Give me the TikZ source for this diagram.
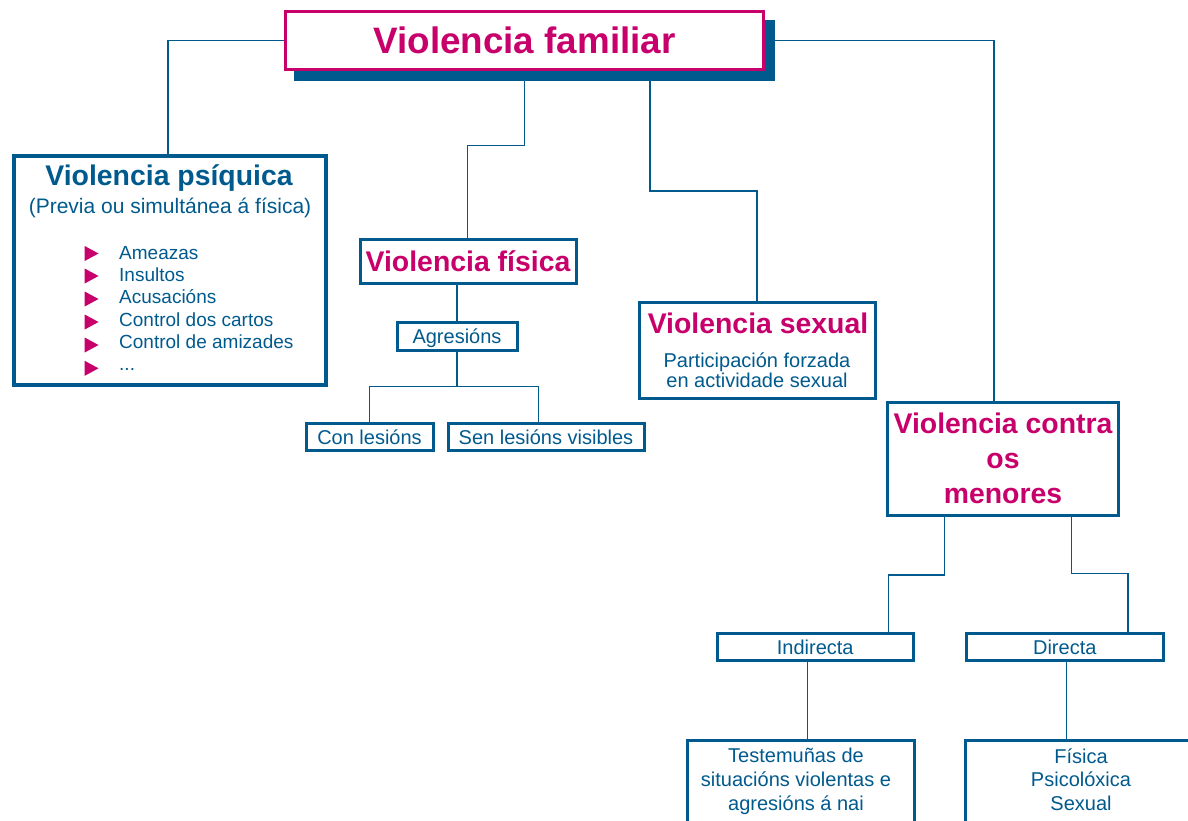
\documentclass[tikz,border=0pt]{standalone}
\usepackage{fontspec}
\setmainfont{Liberation Sans}
\definecolor{dblue}{HTML}{005A8E}
\definecolor{mpink}{HTML}{C8006B}
\newcommand\mydotsx{...}
\begin{document}
\begin{tikzpicture}[x=1pt,y=-1pt,
  boxb/.style={draw=dblue,line width=3pt,fill=white,inner sep=0pt,rectangle},
  conn/.style={draw=dblue,line width=1.4pt},
  ttl/.style={text=mpink,font=\bfseries\fontsize{28.4}{34}\selectfont,text height=20.3pt,text depth=0pt,inner sep=0pt},
  txt/.style={text=dblue,font=\fontsize{20}{24}\selectfont,text height=14.3pt,text depth=0pt,inner sep=0pt},
  itm/.style={text=dblue,font=\fontsize{19}{23}\selectfont,anchor=base west,inner sep=0pt},
  bul/.style={fill=mpink}]
\useasboundingbox (0,0) rectangle (1188,820);
\clip (0,0) rectangle (1188,820);

% shadow and top box
\fill[dblue] (294,20) rectangle (775,80.5);
\node[boxb,draw=mpink,minimum width=478pt,minimum height=58pt,
  text=mpink,font=\bfseries\fontsize{36.8}{40}\selectfont,text height=26.4pt,text depth=0pt]
  (top) at (524.5,40.5) {Violencia familiar};

% Violencia psiquica
\node[boxb,line width=4pt,minimum width=312pt,minimum height=229pt] (psi) at (169.5,270) {};
\node[ttl,text=dblue] (psit) at (169,175) {Violencia psíquica};
\node[txt,font=\fontsize{21}{24}\selectfont,text height=15pt] (psis) at (170,206) {(Previa ou simultánea á física)};
\foreach \yy/\yb/\t [count=\i] in {253.5/259.5/Ameazas,276/281.6/Insultos,299/303.4/Acusacións,322/326.6/Control dos cartos,345/348.8/Control de amizades,368.3/370.5/\mydotsx}{
  \fill[bul] (84.7,\yy-7.5) -- (98.5,\yy) -- (84.7,\yy+7.5) -- cycle;
  \node[itm] (it\i) at (119,\yb) {\t};
}

% Violencia fisica
\node[boxb,minimum width=216pt,minimum height=44pt,ttl,inner sep=0pt] (fis) at (468,261.5) {Violencia física};
\node[boxb,minimum width=120pt,minimum height=28pt,txt] (agr) at (457,336) {Agresións};
\node[boxb,minimum width=127pt,minimum height=27pt,txt] (cl) at (369.5,437) {Con lesións};
\node[boxb,minimum width=196pt,minimum height=27pt,txt] (sl) at (546,437) {Sen lesións visibles};

% Violencia sexual
\node[boxb,minimum width=236pt,minimum height=96.5pt] (sex) at (757,350.25) {};
\node[ttl] (sext) at (758,323.3) {Violencia sexual};
\node[txt] (sex1) at (757,360.5) {Participación forzada};
\node[txt] (sex2) at (757,380) {en actividade sexual};

% Violencia contra os menores
\node[boxb,minimum width=230.5pt,minimum height=113pt] (con) at (1002.75,459) {};
\node[ttl] (con1) at (1003,423.3) {Violencia contra};
\node[ttl] (con2) at (1003,458.2) {os};
\node[ttl] (con3) at (1003,493) {menores};

\node[boxb,minimum width=196.5pt,minimum height=27pt,txt] (ind) at (815.25,647) {Indirecta};
\node[boxb,minimum width=197.5pt,minimum height=27pt,txt] (dir) at (1064.75,647) {Directa};

\node[boxb,anchor=north,minimum width=227pt,minimum height=120pt] (tb) at (800.5,739) {};
\node[txt] (tb1) at (796,755.5) {Testemuñas de};
\node[txt] (tb2) at (796,779.5) {situacións violentas e};
\node[txt] (tb3) at (796,803) {agresións á nai};

\node[boxb,anchor=north west,minimum width=300pt,minimum height=120pt] (fb) at (964,739) {};
\node[txt] (fb1) at (1081,756) {Física};
\node[txt] (fb2) at (1081,779.5) {Psicolóxica};
\node[txt] (fb3) at (1081,803) {Sexual};

% connectors
\coordinate (b0) at (168,40.5);
\draw[conn] (top.west) -- (b0) -- (b0 |- psi.north);
\coordinate (b1) at (467.3,145.7);
\draw[conn] (top.south) |- (b1) -- (b1 |- fis.north);
\coordinate (t2) at ([xshift=125.5pt]top.south);
\coordinate (b2) at (757,191);
\draw[conn] (t2) |- (b2) -- (b2 |- sex.north);
\coordinate (b3) at (994,40.5);
\draw[conn] (top.east) -- (b3) -- (b3 |- con.north);
\draw[conn] (agr.north) -- (agr.north |- fis.south);
\coordinate (b4) at (457,386.7);
\draw[conn] (agr.south) -- (b4);
\draw[conn] (cl.north) |- (b4);
\coordinate (s1) at ([xshift=-7.7pt]sl.north);
\draw[conn] (s1) |- (b4);
\coordinate (c1) at ([xshift=-58.5pt]con.south);
\coordinate (b5) at (888.3,575);
\draw[conn] (c1) |- (b5) -- (b5 |- ind.north);
\coordinate (c2) at ([xshift=69pt]con.south);
\coordinate (b6) at (1128,573.3);
\draw[conn] (c2) |- (b6) -- (b6 |- dir.north);
\coordinate (i1) at ([xshift=-7.8pt]ind.south);
\draw[conn] (i1) -- (i1 |- tb.north);
\coordinate (d1) at ([xshift=2pt]dir.south);
\draw[conn] (d1) -- (d1 |- fb.north);
\end{tikzpicture}
\end{document}
